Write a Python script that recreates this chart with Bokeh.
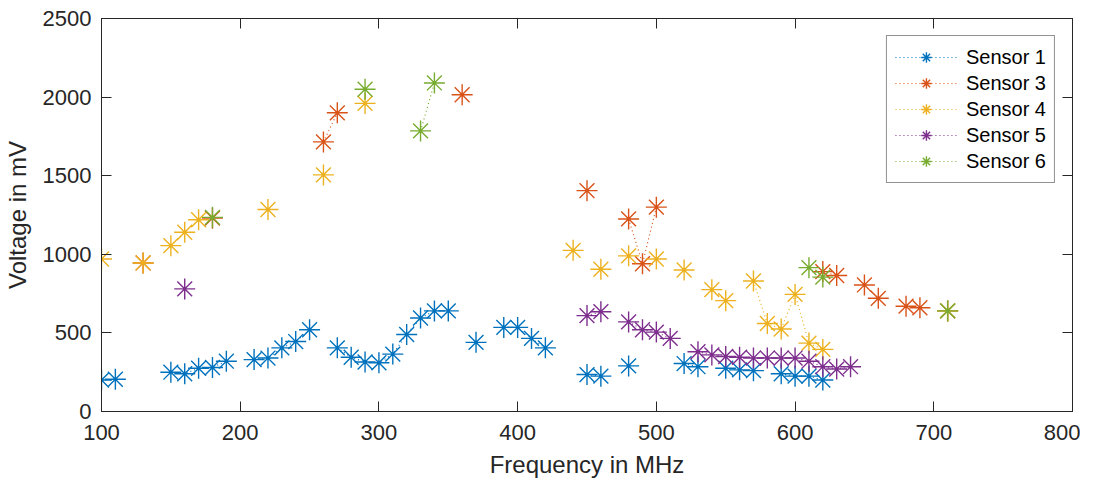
import math
from bokeh.plotting import figure
from bokeh.models import LinearAxis, Range1d, FixedTicker, CustomJSTickFormatter
from bokeh.embed import file_html
from bokeh.resources import INLINE

# ---- data (frequency in MHz, voltage in mV) ----
s1_freq = [100, 110, 150, 160, 170, 180, 190, 210, 220, 230, 240, 250, 270, 280, 290, 300,
           310, 320, 330, 340, 350, 370, 390, 400, 410, 420, 450, 460, 480, 520, 530, 550,
           560, 570, 590, 600, 610, 620]
s1_volt = [200, 205, 250, 240, 275, 280, 320, 330, 340, 405, 445, 520, 405, 345, 315, 310,
           365, 490, 595, 640, 640, 440, 535, 535, 465, 405, 235, 225, 290, 305, 285, 275,
           265, 260, 240, 225, 225, 200]

s3_freq = [130, 180, 260, 270, 360, 450, 480, 490, 500, 620, 630, 650, 660, 680, 690, 710]
s3_volt = [945, 1230, 1715, 1900, 2015, 1405, 1225, 940, 1300, 890, 865, 805, 720, 670, 660, 640]

s4_freq = [100, 130, 150, 160, 170, 220, 260, 290, 440, 460, 480, 500, 520, 540, 550, 570,
           580, 590, 600, 610, 620, 710]
s4_volt = [970, 945, 1055, 1140, 1220, 1285, 1505, 1960, 1025, 905, 990, 970, 900, 775, 705, 830,
           560, 525, 745, 435, 395, 640]

s5_freq = [160, 450, 460, 480, 490, 500, 510, 530, 540, 550, 560, 570, 580, 590, 600, 610,
           620, 630, 640]
s5_volt = [780, 610, 635, 570, 520, 505, 465, 380, 360, 350, 345, 340, 340, 340, 340, 320,
           285, 270, 285]

s6_freq = [180, 290, 330, 340, 610, 620, 710]
s6_volt = [1235, 2050, 1785, 2090, 915, 855, 640]

labels = ["Sensor 1", "Sensor 3", "Sensor 4", "Sensor 5", "Sensor 6"]
colors = ["#0072BD", "#D95319", "#EDB120", "#7E2F8E", "#77AC30"]
x_ticks = [100, 200, 300, 400, 500, 600, 700, 800]
y_ticks = [0, 500, 1000, 1500, 2000, 2500]
STEP = 10  # measurement grid in MHz; gaps break the dotted line


def gapped(freqs, vals):
    xs, ys = [], []
    prev = None
    for f, v in zip(freqs, vals):
        if prev is not None and f - prev > STEP:
            xs.append(math.nan)
            ys.append(math.nan)
        xs.append(f)
        ys.append(v)
        prev = f
    return xs, ys


FONT = "Liberation Sans"
TXT = "#262626"

p = figure(frame_width=971, frame_height=393, output_backend="svg", toolbar_location=None,
           x_range=Range1d(100, 800), y_range=Range1d(0, 2500),
           min_border_left=93, min_border_right=8, min_border_top=18, min_border_bottom=62)
p.background_fill_color = "white"
p.border_fill_color = "white"
p.outline_line_color = TXT
p.outline_line_width = 1
p.xgrid.visible = False
p.ygrid.visible = False

series = [(s1_freq, s1_volt), (s3_freq, s3_volt), (s4_freq, s4_volt),
          (s5_freq, s5_volt), (s6_freq, s6_volt)]
for (fr, vo), lab, col in zip(series, labels, colors):
    xs, ys = gapped(fr, vo)
    p.line(xs, ys, line_color=col, line_width=1.2, line_dash="1 3", legend_label=lab)
    p.scatter(fr, vo, marker="asterisk", size=21, line_color=col, line_width=1.4,
              legend_label=lab)


def style_axis(ax, ticks, show_labels=True):
    ax.ticker = FixedTicker(ticks=ticks)
    ax.axis_line_color = TXT
    ax.axis_line_width = 1
    ax.major_tick_line_color = TXT
    ax.major_tick_in = 10
    ax.major_tick_out = 0
    ax.minor_tick_line_color = None
    ax.major_label_text_font = FONT
    ax.major_label_text_color = TXT
    ax.major_label_text_font_size = "22px" if show_labels else "0px"
    ax.axis_label_text_font = FONT
    ax.axis_label_text_font_size = "24px"
    ax.axis_label_text_font_style = "normal"
    ax.axis_label_text_color = TXT


style_axis(p.xaxis[0], x_ticks)
style_axis(p.yaxis[0], y_ticks)
p.xaxis[0].axis_label = "Frequency in MHz"
p.yaxis[0].axis_label = "Voltage in mV"
p.xaxis[0].major_label_standoff = 13
p.yaxis[0].major_label_standoff = 10
p.xaxis[0].axis_label_standoff = 8
p.yaxis[0].axis_label_standoff = 9

top_ax = LinearAxis(formatter=CustomJSTickFormatter(code="return ''"))
style_axis(top_ax, x_ticks, show_labels=False)
top_ax.major_label_standoff = 0
p.add_layout(top_ax, "above")
right_ax = LinearAxis(formatter=CustomJSTickFormatter(code="return ''"))
style_axis(right_ax, y_ticks, show_labels=False)
right_ax.major_label_standoff = 0
p.add_layout(right_ax, "right")

lg = p.legend[0]
lg.location = "top_right"
lg.margin = 17
lg.padding = 8
lg.spacing = 0
lg.glyph_width = 62
lg.glyph_height = 26
lg.label_height = 26
lg.label_standoff = 9
lg.label_text_font = FONT
lg.label_text_font_size = "20px"
lg.label_text_color = "black"
lg.border_line_color = TXT
lg.border_line_width = 1
lg.background_fill_color = "white"
lg.background_fill_alpha = 1.0

open("out.html", "w").write(file_html(p, INLINE))
